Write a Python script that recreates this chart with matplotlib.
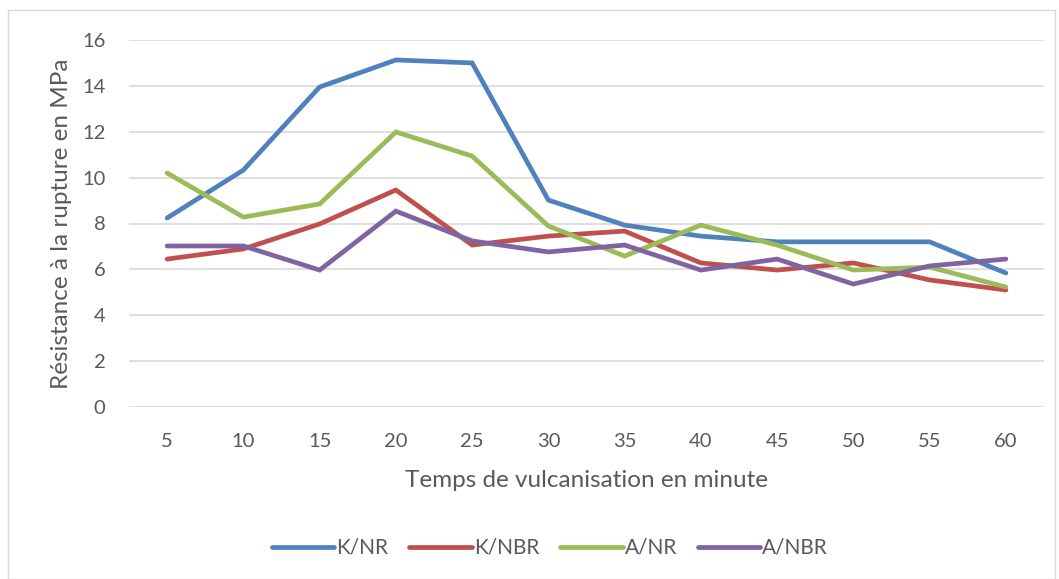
import matplotlib
matplotlib.use("Agg")
import matplotlib.pyplot as plt
from matplotlib.patches import Rectangle

categories = ["5", "10", "15", "20", "25", "30", "35", "40", "45", "50", "55", "60"]
k_nr = [8.24, 10.33, 13.95, 15.13, 15.0, 9.02, 7.93, 7.45, 7.2, 7.2, 7.2, 5.84]
k_nbr = [6.45, 6.89, 7.98, 9.46, 7.06, 7.45, 7.67, 6.28, 5.97, 6.28, 5.54, 5.1]
a_nr = [10.2, 8.28, 8.85, 11.99, 10.94, 7.89, 6.58, 7.93, 7.06, 5.97, 6.1, 5.23]
a_nbr = [7.02, 7.02, 5.97, 8.54, 7.24, 6.76, 7.06, 5.97, 6.45, 5.36, 6.15, 6.45]
series = [("K/NR", k_nr, "#4F81BD"), ("K/NBR", k_nbr, "#C0504D"),
          ("A/NR", a_nr, "#9BBB59"), ("A/NBR", a_nbr, "#8064A2")]

plt.rcParams['font.family'] = ['Lato', 'DejaVu Sans']
txt = "#595959"

fig = plt.figure(figsize=(10.59, 5.79), dpi=100)
fig.patches.append(Rectangle((8/1059, 0.5/579), (1055-8)/1059, (569-0.5)/579,
                             transform=fig.transFigure, fill=False,
                             edgecolor="#D9D9D9", linewidth=1))
ax = fig.add_axes([129/1059, 172/579, (1044-129)/1059, (407-40)/579])
x = list(range(len(categories)))
for name, vals, col in series:
    ax.plot(x, vals, color=col, linewidth=3.4, label=name, solid_capstyle='round',
            solid_joinstyle='miter')
ax.set_xlim(-0.5, len(categories) - 0.5)
ax.set_ylim(0, 16)
ax.set_yticks(range(0, 17, 2))
ax.set_xticks(x)
ax.set_xticklabels(categories)
ax.grid(axis='y', color="#D9D9D9", linewidth=1.2)
ax.set_axisbelow(True)
for s in ax.spines.values():
    s.set_visible(False)
ax.tick_params(length=0, labelsize=14.5, colors=txt)
ax.tick_params(axis='x', pad=19)
ax.tick_params(axis='y', pad=17)
ax.set_xlabel("Temps de vulcanisation en minute", fontsize=17.5, color=txt, labelpad=14)
ax.set_ylabel("Résistance à la rupture en MPa", fontsize=17.5, color=txt, labelpad=7)
leg = fig.legend(loc='center', bbox_to_anchor=(550/1059, 1 - 548/579), ncol=4,
                 frameon=False, fontsize=15, handlelength=3.0, handletextpad=0.1,
                 columnspacing=1.0)
for t in leg.get_texts():
    t.set_color(txt)
fig.savefig("out.png", dpi=100)
